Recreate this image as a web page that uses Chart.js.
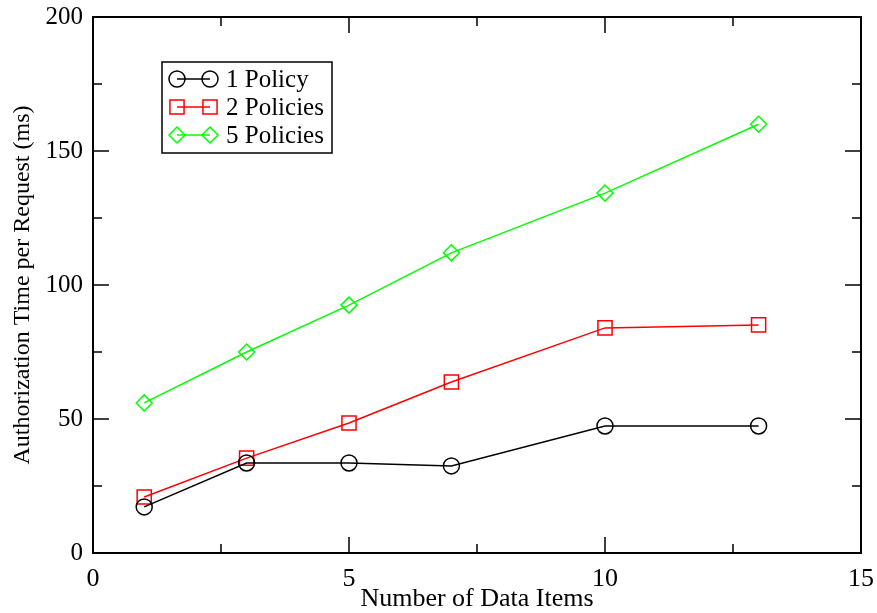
<!DOCTYPE html>
<html>
<head>
<meta charset="utf-8">
<script src="https://cdn.jsdelivr.net/npm/chart.js@4.4.1/dist/chart.umd.min.js"></script>
<style>
  body { margin: 0; background: #fff; }
  #wrap { width: 877px; height: 613px; }
</style>
</head>
<body>
<div id="wrap"><canvas id="authChart" width="877" height="613"></canvas></div>
<script>
// data
var dataItems = [1, 3, 5, 7, 10, 13];
var onePolicy = [17.2, 33.6, 33.6, 32.5, 47.4, 47.4];
var twoPolicies = [20.9, 35.4, 48.5, 63.8, 84.0, 85.1];
var fivePolicies = [56.0, 75.0, 92.5, 112.0, 134.3, 160.0];
var seriesNames = ['1 Policy', '2 Policies', '5 Policies'];
var xTicks = [0, 5, 10, 15];
var yTicks = [0, 50, 100, 150, 200];

var serif = '"Liberation Serif", "DejaVu Serif", serif';

function toPoints(vals) {
    var pts = [];
    for (var i = 0; i < dataItems.length; i++) {
        pts.push({x: dataItems[i], y: vals[i]});
    }
    return pts;
}

// inward ticks on all four sides + box + legend
var framePlugin = {
    id: 'frame',
    afterDraw: function(chart) {
        var ctx = chart.ctx;
        var a = chart.chartArea;
        var xs = chart.scales.x, ys = chart.scales.y;
        ctx.save();
        ctx.strokeStyle = '#000';
        ctx.lineWidth = 2;
        ctx.strokeRect(a.left, a.top, a.right - a.left, a.bottom - a.top);

        ctx.lineWidth = 1.5;
        ctx.beginPath();
        for (var v = 0; v <= 15; v += 2.5) {
            var px = xs.getPixelForValue(v);
            var len = (v % 5 == 0) ? 16 : 9;
            ctx.moveTo(px, a.bottom); ctx.lineTo(px, a.bottom - len);
            ctx.moveTo(px, a.top); ctx.lineTo(px, a.top + len);
        }
        for (var w = 0; w <= 200; w += 25) {
            var py = ys.getPixelForValue(w);
            var len2 = (w % 50 == 0) ? 16 : 9;
            ctx.moveTo(a.left, py); ctx.lineTo(a.left + len2, py);
            ctx.moveTo(a.right, py); ctx.lineTo(a.right - len2, py);
        }
        ctx.stroke();

        // legend box
        var bx = 162, by = 62, bw = 170, bh = 91;
        ctx.fillStyle = '#fff';
        ctx.fillRect(bx, by, bw, bh);
        ctx.lineWidth = 1.5;
        ctx.strokeRect(bx, by, bw, bh);
        ctx.font = '25px ' + serif;
        ctx.textBaseline = 'middle';
        chart.data.datasets.forEach(function(ds, i) {
            var ry = 79 + i * 28;
            ctx.strokeStyle = ds.borderColor;
            ctx.lineWidth = 1.5;
            ctx.beginPath();
            ctx.moveTo(177, ry); ctx.lineTo(210, ry);
            ctx.stroke();
            var opts = {pointStyle: ds.pointStyle, radius: ds.pointRadius, borderWidth: 1.5, rotation: 0};
            ctx.fillStyle = 'rgba(0,0,0,0)';
            Chart.helpers.drawPoint(ctx, opts, 177, ry);
            Chart.helpers.drawPoint(ctx, opts, 210, ry);
            ctx.fillStyle = '#000';
            ctx.fillText(ds.label, 226, ry + 1);
        });
        ctx.restore();
    }
};

var chart = new Chart(document.getElementById('authChart').getContext('2d'), {
    type: 'scatter',
    data: {
        datasets: [{
            label: seriesNames[0],
            data: toPoints(onePolicy),
            showLine: true,
            borderColor: '#000000',
            backgroundColor: 'rgba(0,0,0,0)',
            borderWidth: 1.5,
            pointStyle: 'circle',
            pointRadius: 8,
            pointBorderWidth: 1.5
        }, {
            label: seriesNames[1],
            data: toPoints(twoPolicies),
            showLine: true,
            borderColor: '#ff0000',
            backgroundColor: 'rgba(0,0,0,0)',
            borderWidth: 1.5,
            pointStyle: 'rect',
            pointRadius: 10,
            pointBorderWidth: 1.5
        }, {
            label: seriesNames[2],
            data: toPoints(fivePolicies),
            showLine: true,
            borderColor: '#00ff00',
            backgroundColor: 'rgba(0,0,0,0)',
            borderWidth: 1.5,
            pointStyle: 'rectRot',
            pointRadius: 8,
            pointBorderWidth: 1.5
        }]
    },
    options: {
        responsive: false,
        animation: false,
        layout: { padding: { top: 17, right: 16, left: 0, bottom: 0 } },
        plugins: {
            legend: { display: false },
            tooltip: { enabled: false }
        },
        scales: {
            x: {
                type: 'linear',
                min: 0, max: 15,
                afterBuildTicks: function(scale) {
                    scale.ticks = xTicks.map(function(v) { return {value: v}; });
                },
                afterFit: function(scale) {
                    scale.height = 60;
                    scale.paddingLeft = 0; scale.paddingRight = 0;
                },
                grid: { display: false },
                border: { display: false },
                ticks: { color: '#000', font: { family: serif, size: 26 }, padding: 3, maxRotation: 0 },
                title: { display: true, text: 'Number of Data Items', color: '#000',
                         font: { family: serif, size: 26 }, padding: { top: 0, bottom: -2 } }
            },
            y: {
                type: 'linear',
                min: 0, max: 200,
                afterBuildTicks: function(scale) {
                    scale.ticks = yTicks.map(function(v) { return {value: v}; });
                },
                afterFit: function(scale) {
                    scale.width = 93;
                    scale.paddingTop = 0; scale.paddingBottom = 0;
                },
                grid: { display: false },
                border: { display: false },
                ticks: { color: '#000', font: { family: serif, size: 25 }, padding: 2 },
                title: { display: true, text: 'Authorization Time per Request (ms)', color: '#000',
                         font: { family: serif, size: 24 }, padding: { top: 8, bottom: 0 } }
            }
        }
    },
    plugins: [framePlugin]
});
</script>
</body>
</html>
